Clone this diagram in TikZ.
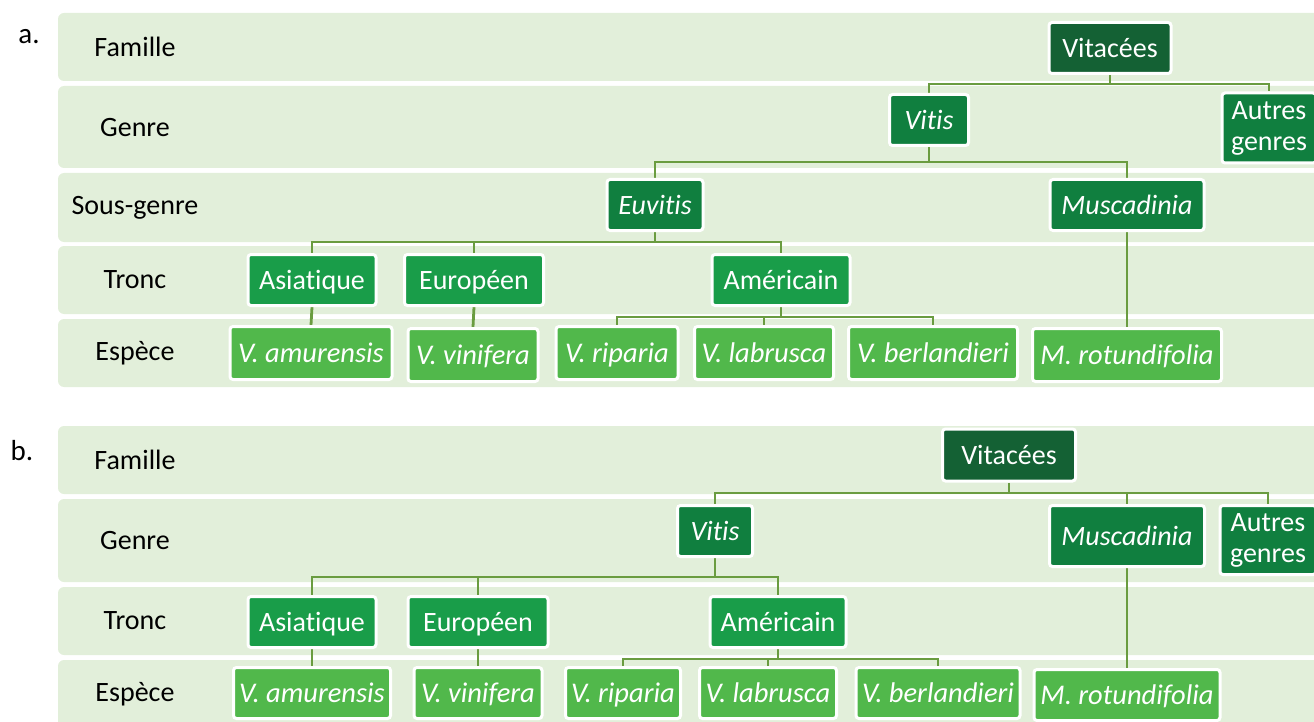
\documentclass[tikz,border=0pt]{standalone}
\usepackage{fontspec}
\setmainfont{Carlito}[Ligatures=NoCommon]
\usetikzlibrary{backgrounds}
\definecolor{bandc}{HTML}{E2EFDA}
\definecolor{famc}{HTML}{146134}
\definecolor{genc}{HTML}{107F3F}
\definecolor{tronc}{HTML}{199D49}
\definecolor{espc}{HTML}{51B84B}
\definecolor{connc}{HTML}{6A9C40}
\begin{document}
\begin{tikzpicture}[x=1pt,y=-1pt,
  every node/.style={font=\fontsize{28}{31}\selectfont},
  band/.style={fill=bandc,draw=none,rounded corners=6pt},
  lab/.style={text=black,inner sep=0pt},
  boxbase/.style={draw=white,line width=3pt,rounded corners=3pt,text=white,inner sep=0pt,align=center},
  oneline/.style={text height=23pt,text depth=4pt},
  fambox/.style={boxbase,oneline,fill=famc},
  genbox/.style={boxbase,oneline,fill=genc},
  genbox2/.style={boxbase,fill=genc,font=\fontsize{28}{31}\selectfont},
  trbox/.style={boxbase,oneline,fill=tronc},
  espbox/.style={boxbase,oneline,fill=espc,font=\fontsize{28.5}{31}\selectfont\itshape},
  conn/.style={draw=connc,line width=2.8pt}]
\useasboundingbox (0,0) rectangle (1314,722);
% ---------- part a ----------
\node[lab,font=\fontsize{29}{31}\selectfont] (la) at (29,37) {a.};
\node[lab] (fa) at (135,47) {Famille};
\node[lab] (ga) at (135,128) {Genre};
\node[lab] (sa) at (135,208) {Sous-genre};
\node[lab] (ta) at (135,280) {Tronc};
\node[lab] (ea) at (135,353) {Espèce};

\node[fambox,minimum width=122pt,minimum height=51pt] (vitaceesA) at (1110,48) {Vitacées};
\node[genbox,minimum width=79pt,minimum height=51pt] (vitisA) at (929,120) {\itshape Vitis};
\node[genbox2,minimum width=94pt,minimum height=70pt] (autresA) at (1269,128) {Autres\\genres};
\node[genbox,minimum width=96pt,minimum height=51pt] (euvitisA) at (655,205) {\itshape Euvitis};
\node[genbox,minimum width=154pt,minimum height=51pt] (muscA) at (1127,205) {\itshape Muscadinia};
\node[trbox,minimum width=128pt,minimum height=51pt] (asiaA) at (312,280) {Asiatique};
\node[trbox,minimum width=139pt,minimum height=51pt] (euroA) at (474,280) {Européen};
\node[trbox,minimum width=138pt,minimum height=51pt] (ameA) at (781,280) {Américain};
\node[espbox,minimum width=162pt,minimum height=53pt] (amurA) at (311,353) {V. amurensis};
\node[espbox,minimum width=130pt,minimum height=53pt] (viniA) at (473,355) {V. vinifera};
\node[espbox,minimum width=122pt,minimum height=53pt] (ripA) at (617,353) {V. riparia};
\node[espbox,minimum width=139pt,minimum height=53pt] (labA) at (764,353) {V. labrusca};
\node[espbox,minimum width=169pt,minimum height=53pt] (berA) at (933,353) {V. berlandieri};
\node[espbox,minimum width=189pt,minimum height=53pt] (rotA) at (1127,355) {M. rotundifolia};

\coordinate (busA1) at (1110,84);
\coordinate (busA2) at (929,162);
\coordinate (busA3) at (655,242);
\coordinate (busA4) at (781,317);

% ---------- part b ----------
\node[lab,font=\fontsize{29}{31}\selectfont] (lb) at (22,451) {b.};
\node[lab] (fb) at (135,460) {Famille};
\node[lab] (gb) at (135,541) {Genre};
\node[lab] (tb) at (135,621) {Tronc};
\node[lab] (eb) at (135,694) {Espèce};

\node[fambox,minimum width=133pt,minimum height=52pt] (vitaceesB) at (1009,455) {Vitacées};
\node[genbox,minimum width=75pt,minimum height=51pt] (vitisB) at (715,531) {\itshape Vitis};
\node[genbox,minimum width=155pt,minimum height=61pt] (muscB) at (1127,536) {\itshape Muscadinia};
\node[genbox2,minimum width=96pt,minimum height=69pt] (autresB) at (1268,540) {Autres\\genres};
\node[trbox,minimum width=128pt,minimum height=51pt] (asiaB) at (312,622) {Asiatique};
\node[trbox,minimum width=140pt,minimum height=51pt] (euroB) at (478,622) {Européen};
\node[trbox,minimum width=136pt,minimum height=51pt] (ameB) at (778,622) {Américain};
\node[espbox,minimum width=157pt,minimum height=51pt] (amurB) at (312,693) {V. amurensis};
\node[espbox,minimum width=128pt,minimum height=51pt] (viniB) at (478,693) {V. vinifera};
\node[espbox,minimum width=115pt,minimum height=51pt] (ripB) at (623,693) {V. riparia};
\node[espbox,minimum width=137pt,minimum height=51pt] (labB) at (768,693) {V. labrusca};
\node[espbox,minimum width=164pt,minimum height=51pt] (berB) at (938,693) {V. berlandieri};
\node[espbox,minimum width=186pt,minimum height=51pt] (rotB) at (1127,695) {M. rotundifolia};

\coordinate (busB1) at (1009,493);
\coordinate (busB2) at (715,577);
\coordinate (busB3) at (778,659);

\begin{pgfonlayer}{background}
  % bands a
  \fill[band] (58,13) rectangle (1340,81);
  \fill[band] (58,86) rectangle (1340,168);
  \fill[band] (58,173) rectangle (1340,242);
  \fill[band] (58,246) rectangle (1340,314);
  \fill[band] (58,319) rectangle (1340,387);
  % bands b
  \fill[band] (58,426) rectangle (1340,494);
  \fill[band] (58,499) rectangle (1340,582);
  \fill[band] (58,587) rectangle (1340,655);
  \fill[band] (58,660) rectangle (1340,740);
  % connectors a
  \draw[conn] (vitaceesA.south) -- (busA1) -| (vitisA.north);
  \draw[conn] (busA1) -| (autresA.north);
  \draw[conn] (vitisA.south) -- (busA2) -| (euvitisA.north);
  \draw[conn] (busA2) -| (muscA.north);
  \draw[conn] (euvitisA.south) -- (busA3) -| (asiaA.north);
  \draw[conn] (busA3) -| (ameA.north);
  \draw[conn] (busA3) -| (euroA.north);
  \draw[conn] (ameA.south) -- (busA4) -| (ripA.north);
  \draw[conn] (busA4) -| (berA.north);
  \draw[conn] (busA4) -| (labA.north);
  \draw[conn] (asiaA.south) -- (amurA.north);
  \draw[conn] (euroA.south) -- (viniA.north);
  \draw[conn] (muscA.south) -- (rotA.north);
  % connectors b
  \draw[conn] (vitaceesB.south) -- (busB1) -| (vitisB.north);
  \draw[conn] (busB1) -| (autresB.north);
  \draw[conn] (busB1) -| (muscB.north);
  \draw[conn] (vitisB.south) -- (busB2) -| (asiaB.north);
  \draw[conn] (busB2) -| (ameB.north);
  \draw[conn] (busB2) -| (euroB.north);
  \draw[conn] (ameB.south) -- (busB3) -| (ripB.north);
  \draw[conn] (busB3) -| (berB.north);
  \draw[conn] (busB3) -| (labB.north);
  \draw[conn] (asiaB.south) -- (amurB.north);
  \draw[conn] (euroB.south) -- (viniB.north);
  \draw[conn] (muscB.south) -- (rotB.north);
\end{pgfonlayer}
\end{tikzpicture}
\end{document}
